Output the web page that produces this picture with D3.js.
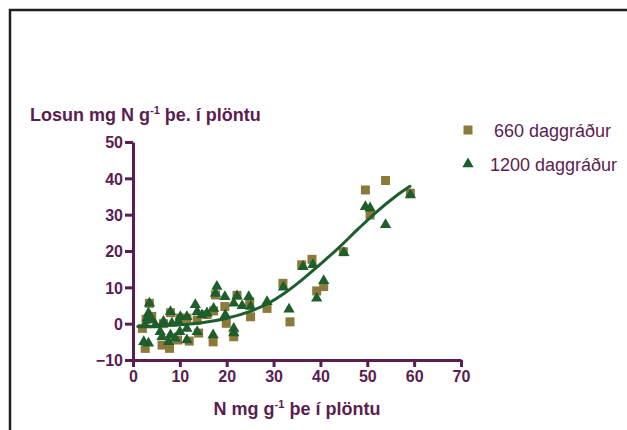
<!DOCTYPE html>
<html>
<head>
<meta charset="utf-8">
<script src="https://cdn.jsdelivr.net/npm/d3@7/dist/d3.min.js"></script>
<style>
  html, body { margin: 0; padding: 0; background: #fff; }
  svg { display: block; }
  text { font-family: "Liberation Sans", Arial, sans-serif; }
</style>
</head>
<body>
<svg id="chart" width="627" height="430"></svg>
<script>
// ---- data ----
const series660 = [
  [2,-1.3],[2.6,-6.8],[3.5,5.6],[2.8,1.2],[4,2],[6.2,-5.9],[7.8,-6.8],[8,3],[6.5,0],[9.5,-4.5],
  [10,1.5],[11.5,1.5],[12,-4.8],[13.7,1],[14,-2.6],[15.8,2.5],[17.1,-5],[17.6,7.9],[17.2,3.5],
  [19.6,4.7],[19.9,0.1],[21.5,-3.6],[22.2,7.8],[24.9,6],[25.1,1.9],[28.6,4.2],[32,11.1],[33.5,0.5],
  [36,16.2],[38.2,17.7],[39.2,9],[40.7,10.2],[44.9,19.8],[49.6,36.8],[50.6,29.9],[53.9,39.4],[59.2,35.9]
];
const series1200 = [
  [2.3,-5],[3.3,-5.4],[2.6,-0.4],[3,1.5],[3.3,2.9],[3.5,5.6],[4.1,1],[4.8,-0.4],[5.8,-2.2],[6.2,-3.6],
  [6.5,0.6],[7.6,-5],[8,3.3],[8,-3.1],[8.3,0.1],[9,-4],[9.7,0.6],[10.1,1.9],[10,-2.2],[11.5,1.9],
  [11.5,-1.3],[11.5,-4.5],[13.3,5.2],[13.7,3.3],[13.7,-2.2],[14.7,2.4],[15.8,2.9],[17.1,-3.1],[17.2,4.2],
  [17.9,10.2],[17.6,8.3],[19.6,7.4],[19.7,2.4],[21.5,5.6],[21.5,-1.3],[21.5,-2.6],[22.2,7.6],[23.3,4.9],
  [24.7,7.4],[25.1,4.7],[28.6,6],[32.1,10],[33.3,4],[36.3,15.7],[38.4,16.2],[39.2,7],[40.7,11.8],
  [45,19.5],[49.6,32.2],[50.6,31.8],[53.9,27.2],[59.2,35.4]
];
const curveX = [1, 5, 10, 15, 20, 25, 29, 32, 36, 40, 44, 48, 52, 56, 59.1];
const curveY = [-0.8, -0.64, -0.31, 0.34, 1.5, 3.4, 5.7, 8.1, 12.0, 16.4, 21.0, 26.0, 30.8, 35.0, 37.8];
const xTicks = [0, 10, 20, 30, 40, 50, 60, 70];
const yTicks = [-10, 0, 10, 20, 30, 40, 50];
const legendLabels = ["660 daggráður", "1200 daggráður"];

// ---- styles ----
const purple = "#5b1d50";
const olive = "#8c7a3b";
const green = "#1d5e2c";

const svg = d3.select("#chart");

// frame (top and left edges)
svg.append("path").attr("d", "M10,430 L10,10 L627,10")
  .attr("fill", "none").attr("stroke", "#231f20").attr("stroke-width", 2.5);

const x = d3.scaleLinear().domain([0, 70]).range([133, 461]);
const y = d3.scaleLinear().domain([-10, 50]).range([360, 142]);

// axes
const xAxis = d3.axisBottom(x).tickValues(xTicks).tickSize(7).tickPadding(4).tickSizeOuter(0);
const yAxis = d3.axisLeft(y).tickValues(yTicks).tickSize(8).tickPadding(2).tickSizeOuter(0);

const gx = svg.append("g").attr("transform", "translate(0,360)").call(xAxis);
const gy = svg.append("g").attr("transform", "translate(133,0)").call(yAxis);
[gx, gy].forEach(g => {
  g.select(".domain").attr("stroke", purple).attr("stroke-width", 3);
  g.selectAll(".tick line").attr("stroke", purple).attr("stroke-width", 3);
  g.selectAll(".tick text").attr("fill", purple)
    .style("font-family", '"Liberation Sans", Arial, sans-serif')
    .style("font-weight", "bold").style("font-size", "16px");
});
gy.selectAll(".tick text").attr("dy", "0.36em");

// points
const sq = 9;
svg.append("g").selectAll("rect").data(series660).join("rect")
  .attr("x", d => x(d[0]) - sq / 2).attr("y", d => y(d[1]) - sq / 2)
  .attr("width", sq).attr("height", sq).attr("fill", olive);

const tri = d3.symbol().type(d3.symbolTriangle).size(55);
svg.append("g").selectAll("path").data(series1200).join("path")
  .attr("transform", d => `translate(${x(d[0])},${y(d[1])})`)
  .attr("d", tri).attr("fill", green);

// fitted curve
const line = d3.line().x(d => x(d[0])).y(d => y(d[1])).curve(d3.curveCatmullRom);
svg.append("path").datum(curveX.map((v, i) => [v, curveY[i]]))
  .attr("d", line).attr("fill", "none").attr("stroke", green).attr("stroke-width", 3)
  .attr("stroke-linecap", "round");

// axis titles
const yt = svg.append("text").attr("x", 30).attr("y", 121).attr("fill", purple)
  .style("font-weight", "bold").style("font-size", "18px");
yt.append("tspan").text("Losun mg N g");
yt.append("tspan").attr("dy", -7).style("font-size", "11px").text("-1");
yt.append("tspan").attr("dy", 7).text(" þe. í plöntu");

const xt = svg.append("text").attr("x", 297).attr("y", 415).attr("fill", purple)
  .attr("text-anchor", "middle").style("font-weight", "bold").style("font-size", "18px");
xt.append("tspan").text("N mg g");
xt.append("tspan").attr("dy", -7).style("font-size", "11px").text("-1");
xt.append("tspan").attr("dy", 7).text(" þe í plöntu");

// legend
const lg = svg.append("g");
lg.append("rect").attr("x", 468 - 4.5).attr("y", 130 - 4.5).attr("width", sq).attr("height", sq).attr("fill", olive);
lg.append("path").attr("transform", "translate(468,164)").attr("d", tri).attr("fill", green);
lg.append("text").attr("x", 494).attr("y", 137).attr("fill", purple).style("font-size", "18px").text(legendLabels[0]);
lg.append("text").attr("x", 490).attr("y", 171).attr("fill", purple).style("font-size", "18px").text(legendLabels[1]);
</script>
</body>
</html>
